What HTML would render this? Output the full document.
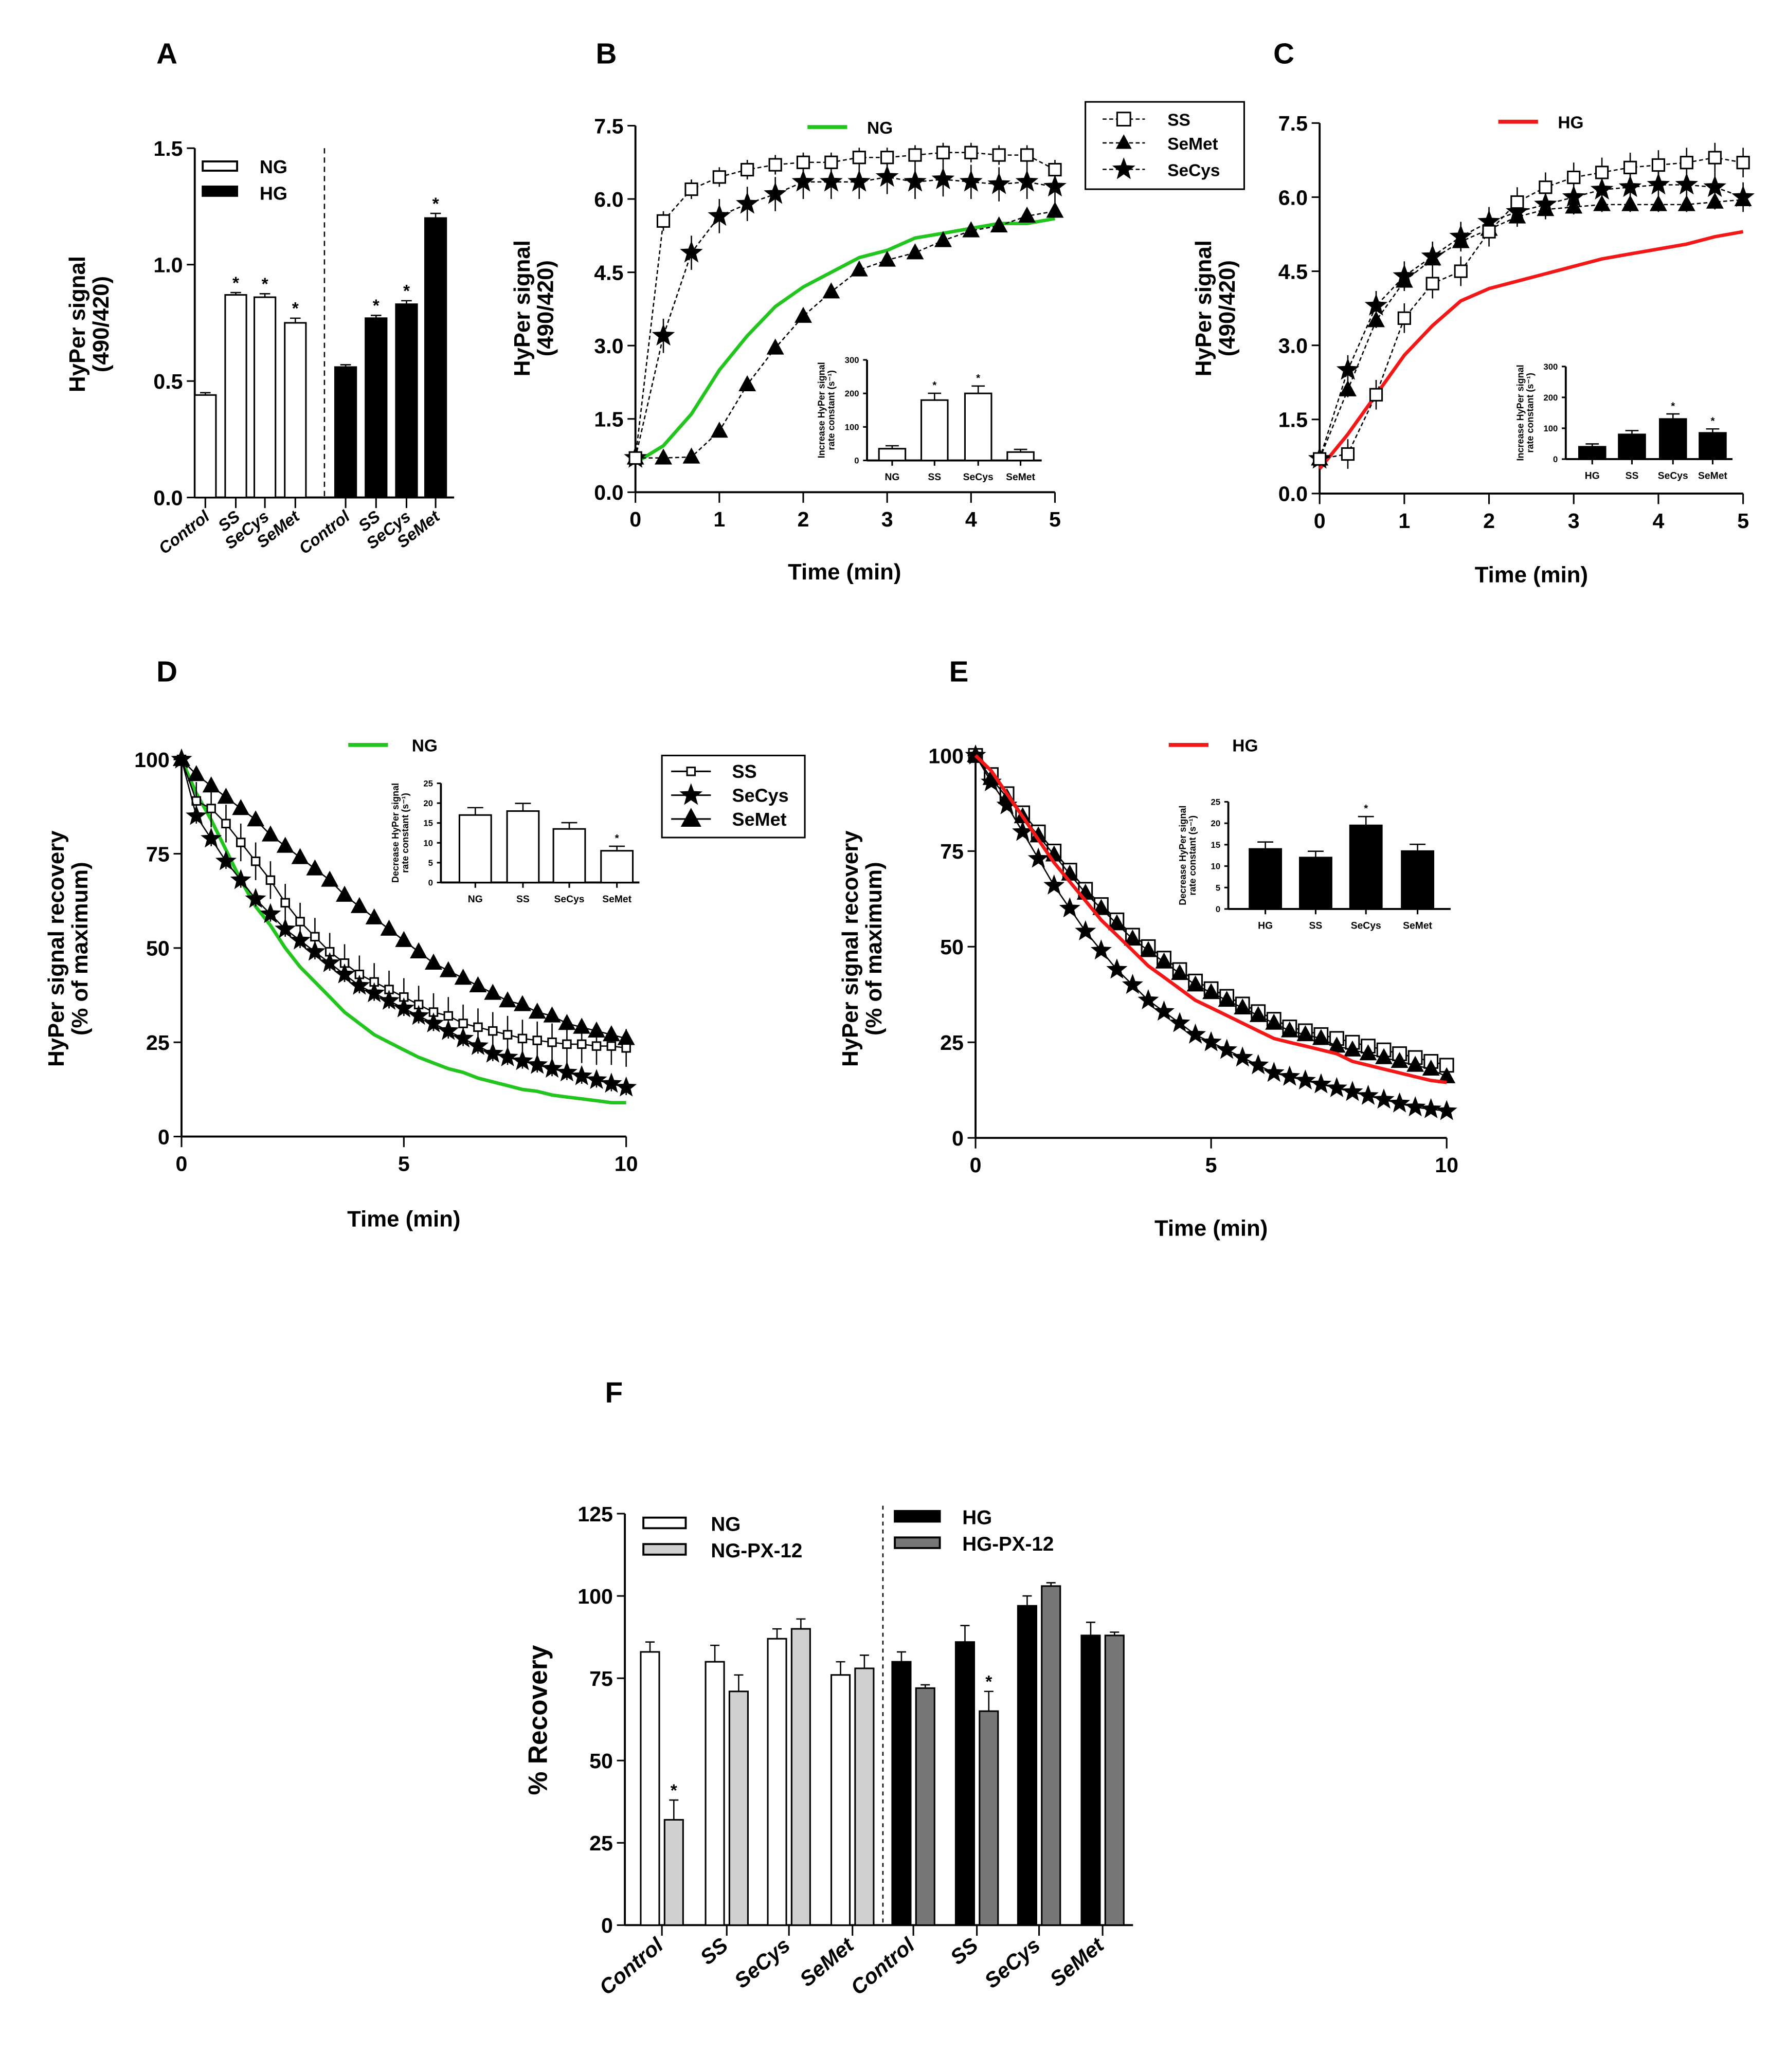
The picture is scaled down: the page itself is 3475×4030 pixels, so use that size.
<!DOCTYPE html>
<html><head><meta charset="utf-8"><style>
html,body{margin:0;padding:0;background:#fff}
svg{display:block}
text{font-family:"Liberation Sans",Arial,sans-serif;font-weight:bold;fill:#000}
</style></head><body>
<svg id="fig" xmlns="http://www.w3.org/2000/svg" width="3475" height="4030" viewBox="0 0 1350 1566">
<rect width="1350" height="1566" fill="#fff"/>
</svg>
<script>
// ---------- data ----------
const catsA = ["Control","SS","SeCys","SeMet"];
const aNG = [0.44,0.87,0.86,0.75];
const aNGerr = [0.01,0.01,0.015,0.02];
const aHG = [0.56,0.77,0.83,1.2];
const aHGerr = [0.01,0.012,0.015,0.02];
const tB = [0,0.333,0.667,1,1.333,1.667,2,2.333,2.667,3,3.333,3.667,4,4.333,4.667,5];
const bSS = [0.7,5.55,6.2,6.45,6.6,6.7,6.75,6.75,6.85,6.85,6.9,6.95,6.95,6.9,6.9,6.6];
const bSeCys = [0.7,3.2,4.9,5.65,5.9,6.1,6.35,6.35,6.35,6.45,6.35,6.4,6.35,6.3,6.35,6.25];
const bSeMet = [0.7,0.7,0.72,1.25,2.2,2.95,3.6,4.1,4.55,4.75,4.9,5.15,5.35,5.45,5.65,5.75];
const bNG = [0.6,0.95,1.6,2.5,3.2,3.8,4.2,4.5,4.8,4.95,5.2,5.3,5.4,5.5,5.5,5.6];
const insetBcats = ["NG","SS","SeCys","SeMet"];
const insetBvals = [35,180,200,25];
const cSS = [0.7,0.8,2.0,3.55,4.25,4.5,5.3,5.9,6.2,6.4,6.5,6.6,6.65,6.7,6.8,6.7];
const cSeCys = [0.7,2.5,3.8,4.4,4.8,5.2,5.5,5.7,5.85,6.0,6.15,6.2,6.25,6.25,6.2,6.0];
const cSeMet = [0.7,2.1,3.5,4.3,4.75,5.1,5.35,5.6,5.75,5.8,5.85,5.85,5.85,5.85,5.9,5.95];
const cHG = [0.5,1.2,2.0,2.8,3.4,3.9,4.15,4.3,4.45,4.6,4.75,4.85,4.95,5.05,5.2,5.3];
const insetCcats = ["HG","SS","SeCys","SeMet"];
const insetCvals = [40,80,130,85];
const tD = [0,0.333,0.667,1,1.333,1.667,2,2.333,2.667,3,3.333,3.667,4,4.333,4.667,5,5.333,5.667,6,6.333,6.667,7,7.333,7.667,8,8.333,8.667,9,9.333,9.667,10];
const dSS = [100,89,87,83,78,73,68,62,57,53,49,46,43,41,39,37,35,33,32,30,29,28,27,26,25.5,25,24.5,24.5,24,24,23.5];
const dSeCys = [100,85,79,73,68,63,59,55,52,49,46,43,40,38,36,34,32,30,28,26,24,22,21,20,19,18,17,16,15,14,13];
const dSeMet = [100,96,93,90,87,84,80,77,74,71,68,64,61,58,55,52,49,46,44,42,40,38,36,35,33,32,30,29,28,27,26];
const dNG = [100,91,84,76,68,61,56,50,45,41,37,33,30,27,25,23,21,19.5,18,17,15.5,14.5,13.5,12.5,12,11,10.5,10,9.5,9,9];
const insetDcats = ["NG","SS","SeCys","SeMet"];
const insetDvals = [17,18,13.5,8];
const eSS = [100,95,90,85,80,75,70,65,61,57,53,50,47,44,41,39,37,35,33,31,29,28,27,26,25,24,23,22,21,20,19];
const eSeMet = [100,94,89,84,79,74,69,64,60,56,52,49,46,43,40,38,36,34,32,30,28,27,26,24,23,22,21,20,19,18,16];
const eSeCys = [100,93,87,80,73,66,60,54,49,44,40,36,33,30,27,25,23,21,19,17,16,15,14,13,12,11,10,9,8,7.5,7];
const eHG = [100,96,90,84,78,72,67,62,57,53,49,45,42,39,36,34,32,30,28,26,25,24,23,22,20,19,18,17,16,15,14.5];
const insetEcats = ["HG","SS","SeCys","SeMet"];
const insetEvals = [14,12,19.5,13.5];
const catsF = ["Control","SS","SeCys","SeMet"];
const fNG = [83,80,87,76];
const fNGpx = [32,71,90,78];
const fHG = [80,86,97,88];
const fHGpx = [72,65,103,88];
const fErr = [3,5,3,4];

// ---------- helpers ----------
const svg = document.getElementById('fig');
const NS = 'http://www.w3.org/2000/svg';
function el(tag, attrs, parent, txt){
  const e = document.createElementNS(NS, tag);
  for (const k in attrs) e.setAttribute(k, attrs[k]);
  if (txt !== undefined) e.textContent = txt;
  (parent||svg).appendChild(e);
  return e;
}
function grp(name){
  const g = el('g', {});
  
  
  return g;
}
function lin(d0,d1,p0,p1){ return v => p0 + (v-d0)/(d1-d0)*(p1-p0); }
function star(cx,cy,r){
  let p=[];
  for(let i=0;i<10;i++){const a=-Math.PI/2+i*Math.PI/5;const rr=i%2?r*0.42:r;p.push((cx+rr*Math.cos(a)).toFixed(1)+','+(cy+rr*Math.sin(a)).toFixed(1));}
  return p.join(' ');
}
function marker(g,type,x,y,s){
  let m;
  if(type==='sq') m = el('rect',{x:x-s/2,y:y-s/2,width:s,height:s,fill:'#fff',stroke:'#000','stroke-width':1.2},g);
  else if(type==='tri') m = el('polygon',{points:`${x},${y-s*0.65} ${x-s*0.6},${y+s*0.45} ${x+s*0.6},${y+s*0.45}`,fill:'#000'},g);
  else m = el('polygon',{points:star(x,y,s*0.7),fill:'#000'},g);
  
  
}
function series(g,xs,ys,X,Y,type,size,dash,err){
  const pts = xs.map((t,i)=>X(t).toFixed(1)+','+Y(ys[i]).toFixed(1)).join(' ');
  const pl = el('polyline',{points:pts,fill:'none',stroke:'#000','stroke-width':1,'stroke-dasharray':dash?'3,2':'none'},g);
  
  
  xs.forEach((t,i)=>{
    if(err && i>0){ el('line',{x1:X(t),x2:X(t),y1:Y(ys[i]+err),y2:Y(ys[i]-err),stroke:'#000','stroke-width':1},g); }
    marker(g,type,X(t),Y(ys[i]),size);
  });
}
function curve(g,xs,ys,X,Y,color,name){
  const pts = xs.map((t,i)=>X(t).toFixed(1)+','+Y(ys[i]).toFixed(1)).join(' ');
  const pl = el('polyline',{points:pts,fill:'none',stroke:color,'stroke-width':2.6,'stroke-linejoin':'round'},g);
  
  
}
function yAxis(g,x,Y,ticks,labels,fs,len){
  const ys = ticks.map(Y);
  el('line',{x1:x,x2:x,y1:Math.max(...ys),y2:Math.min(...ys),stroke:'#000','stroke-width':1.5},g);
  ticks.forEach((t,i)=>{
    el('line',{x1:x-len,x2:x,y1:Y(t),y2:Y(t),stroke:'#000','stroke-width':1.2},g);
    const tx = el('text',{x:x-len-3,y:Y(t)+fs*0.36,'font-size':fs,'text-anchor':'end'},g,labels[i]);
    
    
  });
}
function xAxis(g,y,X,ticks,labels,fs,len,x0,x1){
  el('line',{x1:x0,x2:x1,y1:y,y2:y,stroke:'#000','stroke-width':1.5},g);
  ticks.forEach((t,i)=>{
    el('line',{x1:X(t),x2:X(t),y1:y,y2:y+len,stroke:'#000','stroke-width':1.2},g);
    if(labels){
      const tx = el('text',{x:X(t),y:y+len+fs+2,'font-size':fs,'text-anchor':'middle'},g,labels[i]);
      
      
    }
  });
}
function vtext(g,x,y,fs,lines,name){
  const t = el('text',{transform:`translate(${x},${y}) rotate(-90)`,'font-size':fs,'text-anchor':'middle'},g);
  
  
  lines.forEach((l,i)=>{ el('tspan',{x:0,dy:i?fs*1.05:0},t,l); });
}
function label(g,x,y,fs,s,name,anchor){
  const t = el('text',{x:x,y:y,'font-size':fs,'text-anchor':anchor||'start'},g,s);
  
  
  return t;
}
function bar(g,cx,w,Y,v,fill,err){
  if(err){
    el('line',{x1:cx,x2:cx,y1:Y(v),y2:Y(v+err),stroke:'#000','stroke-width':1},g);
    el('line',{x1:cx-w*0.25,x2:cx+w*0.25,y1:Y(v+err),y2:Y(v+err),stroke:'#000','stroke-width':1},g);
  }
  const r = el('rect',{x:cx-w/2,y:Y(v),width:w,height:Y(0)-Y(v),fill:fill,stroke:'#000','stroke-width':1.2},g);
  
  
}
function inset(g,axX,Y,yt,ylab,cats,vals,xs,w,fill,titleLines,axEnd,stars){
  yAxis(g,axX,Y,yt,ylab,6.5,3);
  xAxis(g,Y(0),v=>v,xs,null,6,4,axX,axEnd);
  cats.forEach((c,i)=>{
    bar(g,xs[i],w,Y,vals[i],fill,vals[i]*0.08+ (yt[yt.length-1]*0.02));
    label(g,xs[i],Y(0)+15,7.5,c,'inset-x-label','middle');
    if(stars[i]) label(g,xs[i],Y(vals[i]*1.08+yt[yt.length-1]*0.04)-2,8,'*','significance-star','middle');
  });
  vtext(g,axX-32,(Y(0)+Y(yt[yt.length-1]))/2,7,titleLines,'inset-y-title');
}

// ---------- Panel A ----------
(function(){
  const g = grp('panel-a');
  label(g,118,48,22,'A','panel-label-a');
  const Y = lin(0,1.5,376,112);
  yAxis(g,147,Y,[0,0.5,1,1.5],['0.0','0.5','1.0','1.5'],16,6);
  el('line',{x1:147,x2:343,y1:376,y2:376,stroke:'#000','stroke-width':1.5},g);
  const xNG=[155,178,200,223], xHG=[261,284,307,329];
  catsA.forEach((c,i)=>{
    bar(g,xNG[i],16,Y,aNG[i],'#fff',aNGerr[i]);
    bar(g,xHG[i],16,Y,aHG[i],'#000',aHGerr[i]);
    [xNG[i],xHG[i]].forEach(x=>{
      el('line',{x1:x,x2:x,y1:376,y2:384},g);
      el('line',{x1:x,x2:x,y1:376,y2:384,stroke:'#000','stroke-width':1.2},g);
      const t=label(g,x+4,392,12.5,c,'x-tick-label','end');
      t.setAttribute('transform',`rotate(-38 ${x+4} 392)`);
      t.setAttribute('font-style','italic');
    });
  });
  [1,2,3].forEach(i=>{label(g,xNG[i],Y(aNG[i]+aNGerr[i])-3,13,'*','significance-star','middle');label(g,xHG[i],Y(aHG[i]+aHGerr[i])-3,13,'*','significance-star','middle');});
  el('line',{x1:245,x2:245,y1:112,y2:376,stroke:'#000','stroke-width':1,'stroke-dasharray':'4,3'},g);
  el('rect',{x:153,y:122,width:26,height:7,fill:'#fff',stroke:'#000','stroke-width':1.5},g);
  el('rect',{x:153,y:141,width:26,height:7,fill:'#000',stroke:'#000','stroke-width':1.5},g);
  label(g,196,131,14,'NG','legend-ng');
  label(g,196,151,14,'HG','legend-hg');
  vtext(g,64,245,17,['HyPer signal','(490/420)'],'y-axis-title');
})();

// ---------- Panel B ----------
(function(){
  const g = grp('panel-b');
  label(g,450,48,22,'B','panel-label-b');
  const X = lin(0,5,480,797), Y = lin(0,7.5,372,95);
  yAxis(g,480,Y,[0,1.5,3,4.5,6,7.5],['0.0','1.5','3.0','4.5','6.0','7.5'],16,6);
  xAxis(g,372,X,[0,1,2,3,4,5],['0','1','2','3','4','5'],16,8,480,797);
  curve(g,tB,bNG,X,Y,'#22c41e','ng-curve');
  series(g,tB,bSeMet,X,Y,'tri',11,true,0);
  series(g,tB,bSeCys,X,Y,'star',13,true,0.35);
  series(g,tB,bSS,X,Y,'sq',9,true,0.2);
  el('line',{x1:610,x2:640,y1:96,y2:96,stroke:'#22c41e','stroke-width':3},g);
  label(g,655,101,13,'NG','legend-ng');
  label(g,638,438,17,'Time (min)','x-axis-title','middle');
  vtext(g,400,233,17,['HyPer signal','(490/420)'],'y-axis-title');
  inset(g,655,lin(0,300,348,272),[0,100,200,300],['0','100','200','300'],insetBcats,insetBvals,[674,706,739,771],20,'#fff',['Increase HyPer signal','rate constant (s\u207B\u00B9)'],787,[0,1,1,0]);
  // legend
  const lg = grp('legend-b');
  el('rect',{x:820,y:77,width:120,height:66,fill:'#fff',stroke:'#000','stroke-width':1.2},lg);
  [['sq','SS',90],['tri','SeMet',108],['star','SeCys',128]].forEach(r=>{
    el('line',{x1:833,x2:865,y1:r[2],y2:r[2],stroke:'#000','stroke-dasharray':'3,2'},lg);
    marker(lg,r[0],849,r[2],r[0]==='star'?13:10);
    label(lg,882,r[2]+5,13,r[1],'legend-entry');
  });
})();

// ---------- Panel C ----------
(function(){
  const g = grp('panel-c');
  label(g,962,48,22,'C','panel-label-c');
  const X = lin(0,5,997,1317), Y = lin(0,7.5,373,93);
  yAxis(g,997,Y,[0,1.5,3,4.5,6,7.5],['0.0','1.5','3.0','4.5','6.0','7.5'],16,6);
  xAxis(g,373,X,[0,1,2,3,4,5],['0','1','2','3','4','5'],16,8,997,1317);
  curve(g,tB,cHG,X,Y,'#f21818','hg-curve');
  series(g,tB,cSeMet,X,Y,'tri',11,true,0.15);
  series(g,tB,cSeCys,X,Y,'star',13,true,0.3);
  series(g,tB,cSS,X,Y,'sq',9,true,0.3);
  el('line',{x1:1132,x2:1162,y1:92,y2:92,stroke:'#f21818','stroke-width':3},g);
  label(g,1177,97,13,'HG','legend-hg');
  label(g,1157,440,17,'Time (min)','x-axis-title','middle');
  vtext(g,915,233,17,['HyPer signal','(490/420)'],'y-axis-title');
  inset(g,1183,lin(0,300,347,277),[0,100,200,300],['0','100','200','300'],insetCcats,insetCvals,[1203,1233,1264,1294],20,'#000',['Increase HyPer signal','rate constant (s\u207B\u00B9)'],1309,[0,0,1,1]);
})();

// ---------- Panel D ----------
(function(){
  const g = grp('panel-d');
  label(g,118,515,22,'D','panel-label-d');
  const X = lin(0,10,137,473), Y = lin(0,100,859,574);
  yAxis(g,137,Y,[0,25,50,75,100],['0','25','50','75','100'],16,6);
  xAxis(g,859,X,[0,5,10],['0','5','10'],16,8,137,473);
  curve(g,tD,dNG,X,Y,'#22c41e','ng-curve');
  series(g,tD,dSeMet,X,Y,'tri',11,false,0);
  series(g,tD,dSS,X,Y,'sq',6,false,5);
  series(g,tD,dSeCys,X,Y,'star',12,false,2);
  el('line',{x1:263,x2:293,y1:563,y2:563,stroke:'#22c41e','stroke-width':3},g);
  label(g,311,568,13,'NG','legend-ng');
  label(g,305,927,17,'Time (min)','x-axis-title','middle');
  vtext(g,48,717,17,['HyPer signal recovery','(% of maximum)'],'y-axis-title');
  inset(g,333,lin(0,25,667,592),[0,5,10,15,20,25],['0','5','10','15','20','25'],insetDcats,insetDvals,[359,395,430,466],24,'#fff',['Decrease HyPer signal','rate constant (s\u207B\u00B9)'],483,[0,0,0,1]);
  const lg = grp('legend-d');
  el('rect',{x:500,y:571,width:108,height:62,fill:'#fff',stroke:'#000','stroke-width':1.2},lg);
  [['sq','SS',583],['star','SeCys',601],['tri','SeMet',619]].forEach(r=>{
    el('line',{x1:507,x2:537,y1:r[2],y2:r[2],stroke:'#000','stroke-width':1.2},lg);
    marker(lg,r[0],522,r[2],r[0]==='sq'?6:13);
    label(lg,553,r[2]+5,14,r[1],'legend-entry');
  });
})();

// ---------- Panel E ----------
(function(){
  const g = grp('panel-e');
  label(g,717,515,22,'E','panel-label-e');
  const X = lin(0,10,737,1093), Y = lin(0,100,860,571);
  yAxis(g,737,Y,[0,25,50,75,100],['0','25','50','75','100'],16,6);
  xAxis(g,860,X,[0,5,10],['0','5','10'],16,8,737,1093);
  series(g,tD,eSS,X,Y,'sq',10,false,0);
  series(g,tD,eSeMet,X,Y,'tri',11,false,0);
  series(g,tD,eSeCys,X,Y,'star',12,false,0);
  curve(g,tD,eHG,X,Y,'#f21818','hg-curve');
  el('line',{x1:883,x2:913,y1:563,y2:563,stroke:'#f21818','stroke-width':3},g);
  label(g,931,568,13,'HG','legend-hg');
  label(g,915,934,17,'Time (min)','x-axis-title','middle');
  vtext(g,648,717,17,['HyPer signal recovery','(% of maximum)'],'y-axis-title');
  inset(g,928,lin(0,25,687,606),[0,5,10,15,20,25],['0','5','10','15','20','25'],insetEcats,insetEvals,[956,994,1032,1071],24,'#000',['Decrease HyPer signal','rate constant (s\u207B\u00B9)'],1096,[0,0,1,0]);
})();

// ---------- Panel F ----------
(function(){
  const g = grp('panel-f');
  label(g,457,1060,22,'F','panel-label-f');
  const Y = lin(0,125,1455,1144);
  yAxis(g,472,Y,[0,25,50,75,100,125],['0','25','50','75','100','125'],16,6);
  el('line',{x1:472,x2:856,y1:1455,y2:1455,stroke:'#000','stroke-width':1.5},g);
  const xa=[491,540,587,635], xb=[681,729,776,824], w=14;
  catsF.forEach((c,i)=>{
    bar(g,xa[i],w,Y,fNG[i],'#fff',fErr[i]);
    bar(g,xa[i]+18,w,Y,fNGpx[i],'#d0d0d0',i===0?6:fErr[i]);
    bar(g,xb[i],w,Y,fHG[i],'#000',fErr[i]);
    bar(g,xb[i]+18,w,Y,fHGpx[i],'#777',i===1?6:1);
    [xa[i]+9,xb[i]+9].forEach(x=>{
      el('line',{x1:x,x2:x,y1:1455,y2:1463,stroke:'#000','stroke-width':1.2},g);
      const t=label(g,x+2,1472,16,c,'x-tick-label','end');
      t.setAttribute('transform',`rotate(-40 ${x+2} 1472)`);
      t.setAttribute('font-style','italic');
    });
  });
  label(g,xa[0]+18,Y(fNGpx[0]+6)-3,13,'*','significance-star','middle');
  label(g,xb[1]+18,Y(fHGpx[1]+6)-3,13,'*','significance-star','middle');
  el('line',{x1:667,x2:667,y1:1138,y2:1455,stroke:'#000','stroke-width':1,'stroke-dasharray':'3,3'},g);
  el('rect',{x:486,y:1147,width:32,height:8,fill:'#fff',stroke:'#000','stroke-width':1.5},g);
  el('rect',{x:486,y:1167,width:32,height:8,fill:'#d0d0d0',stroke:'#000','stroke-width':1.5},g);
  el('rect',{x:676,y:1142,width:34,height:8,fill:'#000',stroke:'#000','stroke-width':1.5},g);
  el('rect',{x:676,y:1162,width:34,height:8,fill:'#777',stroke:'#000','stroke-width':1.5},g);
  label(g,537,1157,15,'NG','legend-ng');
  label(g,537,1177,15,'NG-PX-12','legend-ng-px12');
  label(g,727,1152,15,'HG','legend-hg');
  label(g,727,1172,15,'HG-PX-12','legend-hg-px12');
  vtext(g,413,1300,20,['% Recovery'],'y-axis-title');
})();
</script>
</body></html>
